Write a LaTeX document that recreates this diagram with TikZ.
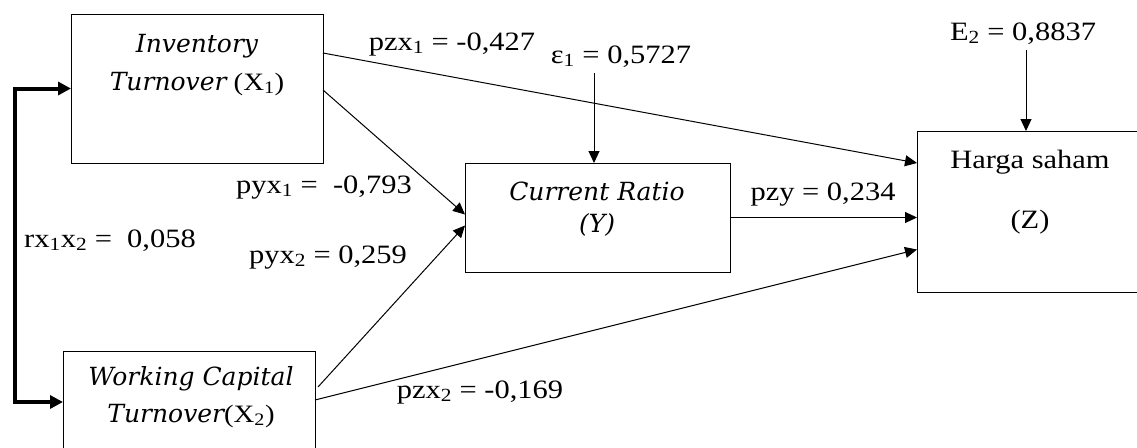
\documentclass[tikz,border=0pt]{standalone}
\usepackage{fontspec}
\setmainfont{Liberation Serif}[FakeStretch=1.15]
\newfontfamily\itf{DejaVu Serif}
\usetikzlibrary{arrows.meta,calc}
\begin{document}
\begin{tikzpicture}[x=1pt,y=-1pt,
  box/.style={draw,line width=1pt,rectangle,inner sep=0pt,outer sep=0pt},
  lbl/.style={anchor=base,inner sep=0pt,font=\fontsize{26.5}{30}\selectfont},
  ilbl/.style={anchor=base,inner sep=0pt,font=\fontsize{25}{28}\selectfont},
  conn/.style={line width=1pt,-{Triangle[length=12pt,width=11pt]}},
  bigconn/.style={line width=4pt,{Triangle[length=13pt,width=13pt]}-{Triangle[length=13pt,width=13pt]}}]
\useasboundingbox (0,0) rectangle (1137,447);
% boxes
\node[box,minimum width=252pt,minimum height=149pt] (X1) at (197,88.5) {};
\node[box,minimum width=252pt,minimum height=129pt] (X2) at (189,415.5) {};
\node[box,minimum width=265pt,minimum height=109pt] (Y) at (597.5,217.5) {};
\node[box,minimum width=253pt,minimum height=161pt] (Z) at (1043.5,211.5) {};
% box texts
\node[ilbl] (x1a) at (197,52) {\itf\itshape Inventory};
\node[ilbl] (x1b) at (197,90) {{\itf\itshape Turnover} (X\textsubscript{1})};
\node[ilbl] (x2a) at (191,385) {\itf\itshape Working Capital};
\node[ilbl] (x2b) at (191,422) {{\itf\itshape Turnover}(X\textsubscript{2})};
\node[ilbl] (ya) at (597,200) {\itf\itshape Current Ratio};
\node[ilbl] (yb) at (597,232) {\itf\itshape (Y)};
\node[lbl] (za) at (1030,168) {Harga saham};
\node[lbl] (zb) at (1030,228) {(Z)};
% coefficient labels
\node[lbl] (lpzx1) at (452,50) {pzx\textsubscript{1} = -0,427};
\node[lbl] (leps) at (621,63) {ε\textsubscript{1} = 0,5727};
\node[lbl] (lE2) at (1023,40) {E\textsubscript{2} = 0,8837};
\node[lbl] (lpyx1) at (324,193) {pyx\textsubscript{1} =\ \ -0,793};
\node[lbl] (lr) at (110,247) {rx\textsubscript{1}x\textsubscript{2} =\ \ 0,058};
\node[lbl] (lpyx2) at (328,263) {pyx\textsubscript{2} = 0,259};
\node[lbl] (lpzy) at (823,200) {pzy = 0,234};
\node[lbl] (lpzx2) at (480,398) {pzx\textsubscript{2} = -0,169};
% free ends
\coordinate (e1) at (594,73);
\coordinate (e2) at (1026,50);
\coordinate (bb) at (15,402);
% connectors
\draw[conn] ($(X1.north east)+(0,39)$) -- ($(Z.north west)+(0,32)$);
\draw[conn] ($(X1.north east)+(0,76)$) -- ($(Y.west)+(0,-3)$);
\draw[conn] ($(X2.north east)+(3,36)$) -- ($(Y.west)+(0,8)$);
\draw[conn] ($(X2.north east)+(0,49)$) -- ($(Z.west)+(0,38)$);
\draw[conn] (Y.east) -- (Z.west |- Y.east);
\draw[conn] (e1) -- (Y.north -| e1);
\draw[conn] (e2) -- (Z.north -| e2);
\draw[bigconn] (X1.west) -| (bb) -- ($(X2.north west)+(0,51)$);
\end{tikzpicture}
\end{document}
